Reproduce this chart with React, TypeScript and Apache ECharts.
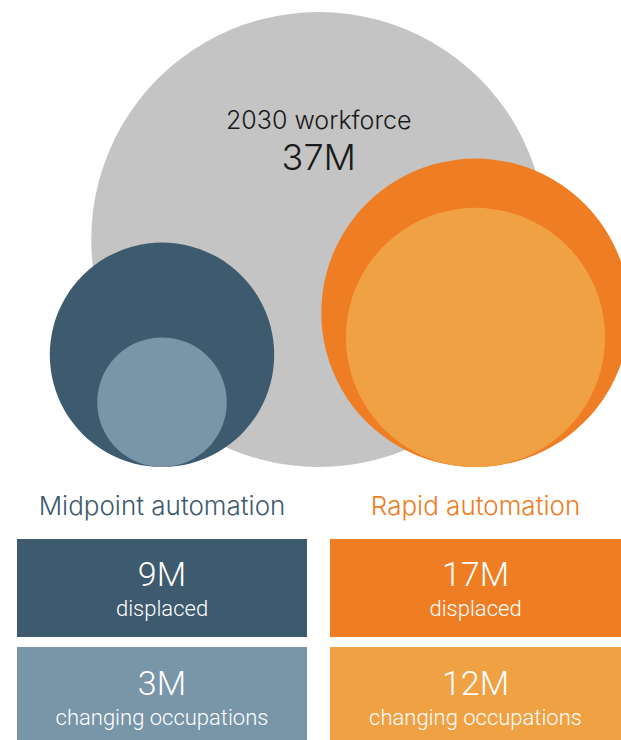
import React, { useEffect, useRef } from "react";
import * as echarts from "echarts";

// ---- data ----
const totalLabel = "2030 workforce";
const totalValue = 37; // millions
const scenarios = ["Midpoint automation", "Rapid automation"];
const displaced = [9, 17]; // millions
const changingOccupations = [3, 12]; // millions
const displacedLabel = "displaced";
const changingLabel = "changing occupations";

// ---- styles / layout ----
const W = 621;
const H = 740;
const GRAY = "#c4c4c4";
const DARK = ["#3e5a6f", "#ee7d23"];
const LIGHT = ["#7896a8", "#f0a144"];
const colCenters = [162, 475.5];
const baseY = 467;
const maxRadius = 227.5;
const boxLeft = [17, 330];
const boxWidth = [290, 291];
const row1 = { y: 539, h: 98 };
const row2 = { y: 647, h: 100 };
const HEAD_FONT = "Inter, 'Helvetica Neue', Arial, sans-serif";
const BOX_FONT = "Roboto, 'Helvetica Neue', Arial, sans-serif";

const fmt = (v: number) => `${v}M`;

export default function App() {
  const ref = useRef<HTMLDivElement>(null);

  useEffect(() => {
    if (!ref.current) return;
    const chart = echarts.init(ref.current, undefined, { renderer: "svg" });
    const k = maxRadius / Math.sqrt(totalValue);
    const rad = (v: number) => k * Math.sqrt(v);

    const circles: any[] = [];
    const pushCircle = (cx: number, v: number, color: string, name: string) => {
      const r = rad(v);
      circles.push({
        name,
        value: [cx, baseY - r],
        symbolSize: 2 * r,
        itemStyle: { color, opacity: 1 },
      });
    };
    pushCircle((colCenters[0] + colCenters[1]) / 2, totalValue, GRAY, totalLabel);
    scenarios.forEach((s, i) => {
      pushCircle(colCenters[i], displaced[i], DARK[i], `${s} ${displacedLabel}`);
      pushCircle(colCenters[i], changingOccupations[i], LIGHT[i], `${s} ${changingLabel}`);
    });

    const graphics: any[] = [];
    const cxTotal = (colCenters[0] + colCenters[1]) / 2;
    graphics.push({
      type: "text",
      x: cxTotal,
      y: 120,
      style: {
        text: totalLabel,
        fill: "#1a1a1a",
        font: `300 25px ${HEAD_FONT}`,
        textAlign: "center",
        textVerticalAlign: "middle",
      },
      z: 10,
    });
    graphics.push({
      type: "text",
      x: cxTotal,
      y: 157,
      style: {
        text: fmt(totalValue),
        fill: "#1a1a1a",
        font: `300 36px ${HEAD_FONT}`,
        textAlign: "center",
        textVerticalAlign: "middle",
      },
      z: 10,
    });

    scenarios.forEach((s, i) => {
      const cx = boxLeft[i] + boxWidth[i] / 2;
      graphics.push({
        type: "text",
        x: cx,
        y: 505,
        style: {
          text: s,
          fill: DARK[i],
          font: `300 26px ${HEAD_FONT}`,
          textAlign: "center",
          textVerticalAlign: "middle",
        },
      });
      graphics.push({
        type: "rect",
        shape: { x: boxLeft[i], y: row1.y, width: boxWidth[i], height: row1.h },
        style: { fill: DARK[i] },
      });
      graphics.push({
        type: "rect",
        shape: { x: boxLeft[i], y: row2.y, width: boxWidth[i], height: row2.h },
        style: { fill: LIGHT[i] },
      });
      const texts = [
        { t: fmt(displaced[i]), y: 573.5, size: 34 },
        { t: displacedLabel, y: 608, size: 22 },
        { t: fmt(changingOccupations[i]), y: 683, size: 34 },
        { t: changingLabel, y: 717, size: 22 },
      ];
      texts.forEach((o) => {
        graphics.push({
          type: "text",
          x: cx,
          y: o.y,
          style: {
            text: o.t,
            fill: "#ffffff",
            font: `300 ${o.size}px ${BOX_FONT}`,
            textAlign: "center",
            textVerticalAlign: "middle",
          },
          z: 10,
        });
      });
    });

    chart.setOption({
      animation: false,
      grid: { left: 0, top: 0, right: 0, bottom: 0 },
      xAxis: { type: "value", min: 0, max: W, show: false },
      yAxis: { type: "value", min: 0, max: H, inverse: true, show: false },
      series: [
        {
          type: "scatter",
          symbol: "circle",
          data: circles,
          silent: true,
          itemStyle: { opacity: 1 },
          z: 1,
        },
      ],
      graphic: graphics,
    });
    return () => chart.dispose();
  }, []);

  return (
    <div
      ref={ref}
      style={{ position: "fixed", left: 0, top: 0, width: W, height: H, background: "#ffffff" }}
    />
  );
}
